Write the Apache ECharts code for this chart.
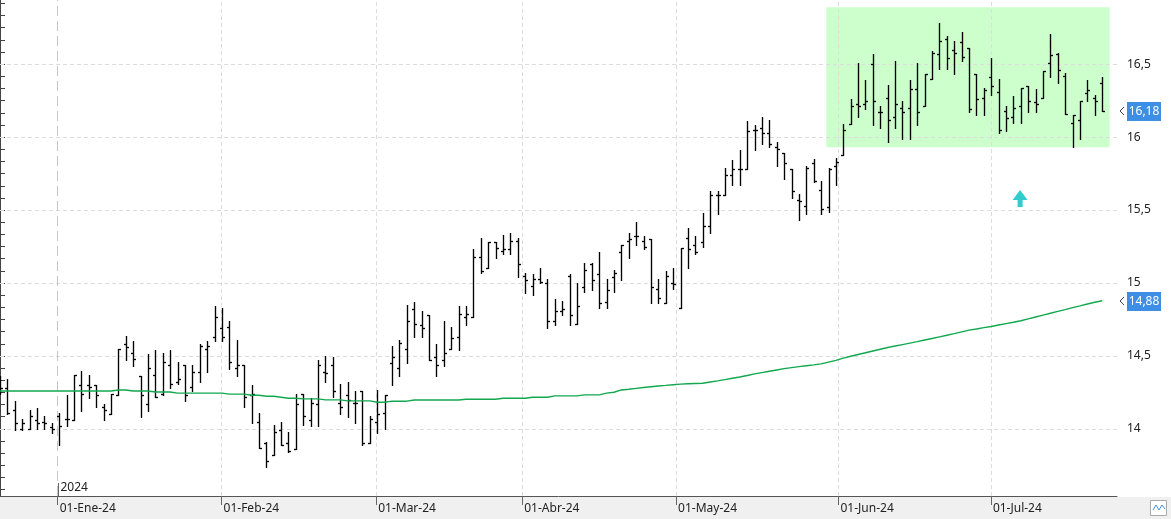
<!DOCTYPE html>
<html>
<head>
<meta charset="utf-8">
<script src="https://cdn.jsdelivr.net/npm/echarts@6/dist/echarts.min.js"></script>
<style>
html, body { margin: 0; height: 100%; background: #fff; }
#chart { width: 1171px; height: 519px; }
</style>
</head>
<body>
<div id="chart"></div>
<script>
// sesiones: 18-dic-23 .. 22-jul-24 (indice de sesion en el eje x)
var monthTicks = [7.8, 29.95, 50.85, 70.6, 91.4, 113.35, 133.95];
var monthLabels = ['01-Ene-24', '01-Feb-24', '01-Mar-24', '01-Abr-24', '01-May-24', '01-Jun-24', '01-Jul-24'];
var priceLabels = [14, 14.5, 15, 15.5, 16, 16.5];

var open = [
  14.30, 14.28, 14.13, 14.00, 14.00, 14.06, 14.05, 14.01, 14.09, 14.07,
  14.06, 14.30, 14.30, 14.30, 14.15, 14.10, 14.23, 14.58, 14.52, 14.36,
  14.17, 14.37, 14.24, 14.44, 14.32, 14.44, 14.29, 14.39, 14.55, 14.63,
  14.69, 14.70, 14.42, 14.44, 14.23, 14.05, 13.90, 13.82, 13.99, 13.90,
  13.86, 14.24, 14.06, 14.17, 14.39, 14.44, 14.18, 14.23, 14.18, 14.26,
  13.90, 14.05, 14.11, 14.45, 14.42, 14.55, 14.82, 14.71, 14.78, 14.49,
  14.47, 14.55, 14.63, 14.77, 14.77, 15.18, 15.10, 15.28, 15.22, 15.23,
  15.29, 15.05, 14.98, 15.03, 15.00, 14.74, 14.81, 15.05, 14.72, 14.97,
  15.13, 15.06, 14.87, 15.04, 15.21, 15.29, 15.32, 15.29, 15.30, 14.96,
  14.86, 15.00, 14.83, 15.31, 15.26, 15.28, 15.39, 15.60, 15.60, 15.74,
  15.78, 15.78, 16.05, 16.06, 16.03, 15.93, 15.89, 15.78, 15.57, 15.53,
  15.82, 15.64, 15.52, 15.80, 15.88, 16.09, 16.23, 16.23, 16.50, 16.17,
  16.27, 16.14, 16.20, 16.20, 16.33, 16.21, 16.40, 16.57, 16.67, 16.60,
  16.65, 16.61, 16.43, 16.27, 16.41, 16.31, 16.18, 16.14, 16.21, 16.35,
  16.24, 16.27, 16.51, 16.57, 16.42, 16.10, 16.12, 16.30, 16.27, 16.37
];
var high = [
  14.36, 14.34, 14.19, 14.07, 14.13, 14.14, 14.09, 14.04, 14.11, 14.23,
  14.37, 14.40, 14.37, 14.30, 14.17, 14.24, 14.55, 14.64, 14.60, 14.36,
  14.51, 14.54, 14.52, 14.54, 14.46, 14.44, 14.44, 14.58, 14.60, 14.84,
  14.83, 14.74, 14.61, 14.44, 14.30, 14.11, 13.91, 14.03, 14.05, 13.98,
  14.24, 14.24, 14.21, 14.47, 14.50, 14.49, 14.31, 14.32, 14.26, 14.26,
  14.09, 14.27, 14.23, 14.57, 14.61, 14.85, 14.87, 14.81, 14.78, 14.58,
  14.74, 14.70, 14.84, 14.84, 15.23, 15.31, 15.28, 15.28, 15.33, 15.34,
  15.31, 15.07, 15.06, 15.10, 15.03, 14.89, 14.88, 15.06, 15.00, 15.14,
  15.14, 15.21, 15.03, 15.09, 15.26, 15.34, 15.42, 15.32, 15.30, 15.03,
  15.08, 15.10, 15.24, 15.38, 15.32, 15.48, 15.63, 15.63, 15.79, 15.84,
  15.91, 16.11, 16.08, 16.14, 16.12, 15.97, 15.89, 15.78, 15.61, 15.80,
  15.85, 15.70, 15.79, 15.86, 16.09, 16.26, 16.51, 16.39, 16.57, 16.21,
  16.36, 16.52, 16.25, 16.39, 16.51, 16.43, 16.59, 16.78, 16.69, 16.66,
  16.72, 16.61, 16.43, 16.34, 16.54, 16.40, 16.21, 16.28, 16.34, 16.35,
  16.33, 16.45, 16.71, 16.58, 16.44, 16.15, 16.25, 16.39, 16.29, 16.41
];
var low = [
  14.24, 14.10, 13.99, 13.99, 14.00, 14.00, 14.00, 13.97, 13.89, 14.02,
  14.06, 14.12, 14.21, 14.15, 14.06, 14.10, 14.23, 14.47, 14.43, 14.08,
  14.12, 14.22, 14.23, 14.28, 14.31, 14.19, 14.26, 14.32, 14.39, 14.60,
  14.60, 14.41, 14.36, 14.15, 14.04, 13.87, 13.74, 13.82, 13.89, 13.84,
  13.86, 14.03, 14.02, 14.02, 14.32, 14.22, 14.10, 14.08, 14.04, 13.89,
  13.90, 13.97, 14.00, 14.30, 14.36, 14.45, 14.63, 14.63, 14.47, 14.36,
  14.43, 14.55, 14.54, 14.71, 14.77, 15.07, 15.10, 15.17, 15.20, 15.20,
  15.04, 14.93, 14.92, 15.00, 14.69, 14.71, 14.78, 14.71, 14.72, 14.94,
  14.95, 14.83, 14.83, 14.94, 15.02, 15.17, 15.26, 15.23, 14.86, 14.86,
  14.86, 14.96, 14.83, 15.10, 15.20, 15.25, 15.34, 15.47, 15.60, 15.67,
  15.67, 15.78, 15.91, 15.95, 15.93, 15.80, 15.71, 15.58, 15.43, 15.47,
  15.69, 15.47, 15.49, 15.67, 15.88, 16.09, 16.14, 16.19, 16.08, 16.06,
  15.97, 16.06, 15.99, 15.99, 16.08, 16.21, 16.40, 16.47, 16.47, 16.43,
  16.52, 16.17, 16.15, 16.15, 16.29, 16.03, 16.04, 16.10, 16.10, 16.17,
  16.17, 16.27, 16.41, 16.37, 16.16, 15.93, 15.99, 16.25, 16.15, 16.18
];
var close = [
  14.28, 14.11, 14.04, 14.04, 14.09, 14.04, 14.04, 14.00, 14.02, 14.07,
  14.37, 14.24, 14.29, 14.23, 14.13, 14.24, 14.55, 14.56, 14.48, 14.23,
  14.42, 14.22, 14.46, 14.31, 14.34, 14.23, 14.39, 14.57, 14.57, 14.77,
  14.63, 14.46, 14.44, 14.22, 14.24, 13.87, 13.78, 13.98, 13.89, 13.85,
  14.17, 14.09, 14.18, 14.44, 14.38, 14.26, 14.15, 14.20, 14.18, 13.90,
  14.07, 14.10, 14.23, 14.49, 14.59, 14.74, 14.72, 14.69, 14.47, 14.44,
  14.52, 14.62, 14.79, 14.79, 15.18, 15.08, 15.28, 15.24, 15.23, 15.29,
  15.13, 15.02, 15.03, 15.01, 14.74, 14.81, 14.82, 14.78, 14.84, 15.09,
  15.02, 14.86, 14.95, 15.07, 15.26, 15.30, 15.32, 15.25, 14.97, 14.90,
  15.05, 14.99, 15.24, 15.23, 15.21, 15.39, 15.60, 15.60, 15.74, 15.78,
  15.78, 16.04, 16.05, 16.03, 15.95, 15.92, 15.82, 15.63, 15.56, 15.79,
  15.70, 15.51, 15.78, 15.83, 16.05, 16.21, 16.21, 16.25, 16.25, 16.17,
  16.12, 16.23, 16.17, 16.33, 16.17, 16.43, 16.58, 16.66, 16.54, 16.58,
  16.55, 16.19, 16.26, 16.32, 16.35, 16.05, 16.13, 16.20, 16.34, 16.25,
  16.23, 16.45, 16.56, 16.46, 16.16, 16.15, 16.25, 16.32, 16.25, 16.18
];
// media movil
var ma = [
  14.26, 14.26, 14.26, 14.26, 14.26, 14.26, 14.26, 14.26, 14.26, 14.26,
  14.26, 14.26, 14.26, 14.26, 14.26, 14.26, 14.267, 14.267, 14.26, 14.26,
  14.26, 14.253, 14.253, 14.253, 14.245, 14.245, 14.245, 14.245, 14.245, 14.245,
  14.245, 14.238, 14.238, 14.238, 14.231, 14.231, 14.224, 14.224, 14.217, 14.21,
  14.21, 14.206, 14.206, 14.206, 14.199, 14.199, 14.199, 14.192, 14.192, 14.192,
  14.192, 14.183, 14.183, 14.19, 14.19, 14.19, 14.198, 14.198, 14.198, 14.198,
  14.198, 14.198, 14.198, 14.203, 14.203, 14.203, 14.203, 14.203, 14.21, 14.21,
  14.21, 14.21, 14.217, 14.217, 14.217, 14.226, 14.226, 14.226, 14.226, 14.233,
  14.233, 14.233, 14.245, 14.251, 14.267, 14.272, 14.278, 14.284, 14.289, 14.294,
  14.298, 14.303, 14.307, 14.309, 14.311, 14.313, 14.321, 14.329, 14.338, 14.347,
  14.356, 14.366, 14.377, 14.386, 14.395, 14.404, 14.413, 14.42, 14.427, 14.433,
  14.439, 14.446, 14.458, 14.47, 14.485, 14.498, 14.51, 14.522, 14.534, 14.546,
  14.558, 14.568, 14.578, 14.588, 14.598, 14.609, 14.62, 14.631, 14.642, 14.653,
  14.665, 14.677, 14.685, 14.694, 14.702, 14.712, 14.722, 14.731, 14.741, 14.754,
  14.767, 14.78, 14.793, 14.806, 14.818, 14.831, 14.843, 14.856, 14.868, 14.878
];
// zona de consolidacion y flecha de senal
var boxFrom = [111.7, 16.89];
var boxTo = [150, 15.93];
var signalArrow = [137.9, 15.58];

var yMin = 13.54, yMax = 16.94;

var chart = echarts.init(document.getElementById('chart'));
var font = 'Noto Sans';
var comma = function (v, d) { return (d ? v.toFixed(d) : String(v)).replace('.', ','); };

var minorTicks = [];
for (var k = Math.ceil(yMin * 12); k <= Math.floor(yMax * 12); k++) minorTicks.push(k / 12);

var bars = open.map(function (o, i) { return [i, o, high[i], low[i], close[i]]; });
var maLine = ma.map(function (v, i) { return [i, v]; });

var gridLines = priceLabels.map(function (v) { return { yAxis: v }; })
  .concat(monthTicks.slice(1).map(function (v) { return { xAxis: v }; }));
gridLines.push({ xAxis: monthTicks[0], lineStyle: { color: '#c6c6c6', type: [10, 5] } });

function renderBar(params, api) {
  var x = Math.round(api.coord([api.value(0), yMin])[0]) + 0.5;
  var yo = Math.round(api.coord([0, api.value(1)])[1]) + 0.5;
  var yh = Math.round(api.coord([0, api.value(2)])[1]);
  var yl = Math.round(api.coord([0, api.value(3)])[1]) + 1;
  var yc = Math.round(api.coord([0, api.value(4)])[1]) + 0.5;
  var st = { stroke: '#000', lineWidth: 1.35 };
  return {
    type: 'group',
    children: [
      { type: 'line', shape: { x1: x, y1: yh, x2: x, y2: yl }, style: st },
      { type: 'line', shape: { x1: x - 2.5, y1: yo, x2: x, y2: yo }, style: st },
      { type: 'line', shape: { x1: x, y1: yc, x2: x + 2.5, y2: yc }, style: st }
    ]
  };
}

var option = {
  animation: false,
  grid: { left: 0, right: 54, top: 0, bottom: 23 },
  xAxis: {
    type: 'value', min: 0, max: 151,
    axisLine: { lineStyle: { color: '#555', width: 1 } },
    axisTick: { customValues: monthTicks, length: 9, lineStyle: { color: '#666' } },
    axisLabel: {
      customValues: monthTicks,
      formatter: function (v) {
        for (var i = 0; i < monthTicks.length; i++) if (Math.abs(monthTicks[i] - v) < 0.01) return monthLabels[i];
        return '';
      },
      align: 'left', margin: 7, padding: [0, 0, 0, 2],
      color: '#222', fontFamily: font, fontSize: 12
    },
    splitLine: { show: false }
  },
  yAxis: {
    type: 'value', position: 'right', min: yMin, max: yMax,
    axisLine: { show: true, lineStyle: { color: '#444' } },
    axisTick: { show: true, customValues: minorTicks, length: 5, lineStyle: { color: '#444' } },
    axisLabel: {
      customValues: priceLabels, formatter: function (v) { return comma(v); },
      margin: 10, color: '#222', fontFamily: font, fontSize: 12
    },
    splitLine: { show: false }
  },
  series: [
    {
      type: 'custom', name: 'OHLC', data: bars, clip: true, z: 3,
      encode: { x: 0, y: [1, 2, 3, 4] },
      renderItem: renderBar,
      markArea: {
        silent: true, z: 0,
        itemStyle: { color: '#ccffcc' },
        data: [[{ coord: boxFrom }, { coord: boxTo }]]
      },
      markPoint: {
        silent: true,
        symbol: 'path://M7.5,0 L15,10 L10,10 L10,17 L5,17 L5,10 L0,10 Z',
        symbolSize: [15, 17],
        itemStyle: { color: '#33cccc' },
        label: { show: false },
        data: [{ coord: signalArrow }]
      }
    },
    {
      type: 'line', name: 'Media', data: maLine, showSymbol: false, z: 4,
      lineStyle: { color: '#12a84e', width: 1.4 },
      markLine: {
        silent: true, z: 1, symbol: ['none', 'none'],
        label: { show: false },
        lineStyle: { color: '#dcdcdc', type: [4, 3], width: 1 },
        data: gridLines
      }
    }
  ]
};
chart.setOption(option);

// etiquetas de precio en el eje, marca de año y fondo del eje x
var axisX = chart.convertToPixel({ xAxisIndex: 0 }, 151);
var baseY = chart.convertToPixel({ yAxisIndex: 0 }, yMin);
var yearX = Math.round(chart.convertToPixel({ xAxisIndex: 0 }, monthTicks[0])) + 0.5;

function priceTag(value, text) {
  var py = Math.round(chart.convertToPixel({ yAxisIndex: 0 }, value));
  return {
    type: 'group', children: [
      { type: 'polyline', shape: { points: [[axisX + 7, py - 4], [axisX + 3, py], [axisX + 7, py + 4]] }, style: { stroke: '#444', lineWidth: 1, fill: null } },
      { type: 'rect', shape: { x: axisX + 10, y: py - 9, width: 34, height: 19 }, style: { fill: '#3d8ee4' } },
      { type: 'text', x: axisX + 27, y: py + 0.5, style: { text: text, fill: '#fff', font: '12px ' + font, align: 'center', verticalAlign: 'middle' } }
    ]
  };
}

chart.setOption({
  graphic: [
    { type: 'rect', z: -1, silent: true, shape: { x: 0, y: baseY + 1, width: 1171, height: 519 - baseY - 1 }, style: { fill: '#f0f0f0' } },
    { type: 'line', shape: { x1: yearX, y1: baseY - 13, x2: yearX, y2: baseY }, style: { stroke: '#666', lineWidth: 1 } },
    { type: 'text', x: yearX + 2, y: baseY - 8, style: { text: '2024', fill: '#222', font: '12px ' + font, verticalAlign: 'middle' } },
    priceTag(close[close.length - 1], comma(close[close.length - 1], 2)),
    priceTag(ma[ma.length - 1], comma(ma[ma.length - 1], 2)),
    { type: 'rect', shape: { x: 1150.5, y: 500.5, width: 16, height: 15 }, style: { fill: '#fff', stroke: '#aaa', lineWidth: 1 } },
    { type: 'polyline', shape: { points: [[1153, 510], [1156, 505], [1159, 510], [1162, 505], [1165, 509]] }, style: { stroke: '#4a8fd8', lineWidth: 1, fill: null } }
  ]
});
</script>
</body>
</html>
